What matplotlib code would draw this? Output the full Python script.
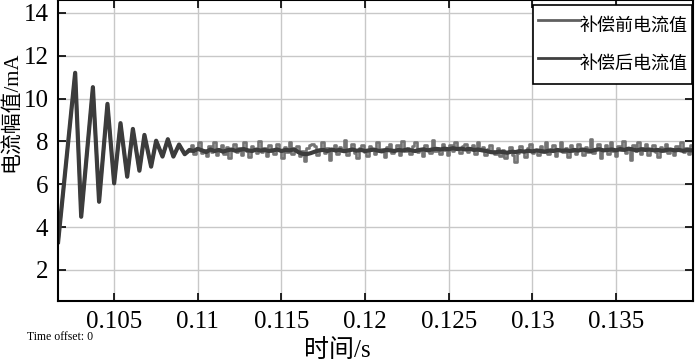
import numpy as np
import matplotlib
matplotlib.use("Agg")
import matplotlib.pyplot as plt

plt.rcParams['font.family'] = ['Liberation Serif', 'Noto Sans CJK SC']

# start-up transient (peaks / troughs), shared by both curves
t_start = [0.10165, 0.10267, 0.10303, 0.10373, 0.10410, 0.10460, 0.10500,
           0.10538, 0.10578, 0.10612, 0.10651, 0.10681, 0.10721, 0.10751,
           0.10789, 0.10821, 0.10854, 0.10888, 0.10922]
i_start = [3.3, 11.2, 4.48, 10.53, 5.18, 9.75, 6.04,
           8.85, 6.35, 8.58, 6.63, 8.30, 6.82, 8.03,
           7.29, 8.10, 7.29, 7.85, 7.40]

# steady state, before compensation (sampled every 0.15 ms from 0.1095 s)
i_before = [
    7.55, 7.85, 7.40, 7.70, 7.95, 7.45, 7.60, 7.30, 7.80, 7.50, 7.95, 7.35, 7.65, 7.85, 7.40, 7.75, 7.20, 7.60, 7.90, 7.50,
    7.70, 7.35, 7.95, 7.55, 7.25, 7.80, 7.60, 7.45, 8.00, 7.50, 7.70, 7.30, 7.85, 7.55, 7.40, 7.90, 7.60, 7.20, 7.75, 7.50,
    7.95, 7.40, 7.65, 7.80, 7.30, 7.55, 7.10, 7.70, 7.85, 7.90, 7.80, 7.35, 7.60, 7.95, 7.45, 7.70, 7.15, 7.60, 7.85, 7.40,
    7.75, 7.55, 8.05, 7.35, 7.60, 7.90, 7.45, 7.20, 7.70, 7.85, 7.50, 7.30, 7.80, 7.60, 7.40, 7.95, 7.55, 7.65, 7.25, 7.75,
    7.90, 7.45, 7.60, 7.85, 7.35, 8.00, 7.55, 7.70, 7.40, 7.80, 7.95, 7.50, 7.65, 7.30, 7.85, 7.60, 7.45, 8.05, 7.55, 7.70,
    7.40, 7.90, 7.60, 7.35, 7.85, 7.55, 7.95, 7.65, 7.45, 7.80, 7.90, 7.50, 7.70, 7.85, 7.40, 7.95, 7.60, 7.75, 7.35, 7.65,
    7.85, 7.55, 7.40, 7.70, 7.30, 7.60, 7.20, 7.50, 7.75, 7.35, 7.05, 7.45, 7.80, 7.55, 7.25, 7.70, 7.90, 7.45, 7.60, 7.35,
    7.80, 7.50, 7.95, 7.40, 7.65, 7.85, 7.30, 7.60, 7.95, 7.50, 7.70, 7.25, 7.85, 7.55, 7.40, 7.90, 7.60, 7.35, 7.75, 7.50,
    8.10, 7.45, 7.65, 7.90, 7.20, 7.60, 7.85, 7.40, 7.95, 7.55, 7.30, 7.80, 7.60, 8.00, 7.45, 7.70, 7.15, 7.85, 7.55, 7.95,
    7.40, 7.70, 7.90, 7.35, 7.60, 7.85, 7.50, 7.25, 7.75, 7.55, 7.90, 7.45, 7.65, 7.35, 7.80, 7.60,
    7.95, 7.50, 7.70, 7.40, 7.85, 7.55, 7.30, 7.75, 7.60, 7.50,
]

# steady state, after compensation (sampled every 0.25 ms from 0.1095 s)
i_after = [
    7.60, 7.55, 7.65, 7.58, 7.50, 7.62, 7.55, 7.60, 7.52, 7.58,
    7.62, 7.56, 7.60, 7.64, 7.58, 7.55, 7.62, 7.57, 7.60, 7.55,
    7.58, 7.62, 7.55, 7.60, 7.58, 7.63, 7.50, 7.42, 7.40, 7.45,
    7.52, 7.58, 7.60, 7.55, 7.62, 7.57, 7.60, 7.54, 7.58, 7.62,
    7.56, 7.60, 7.55, 7.58, 7.62, 7.57, 7.53, 7.60, 7.58, 7.55,
    7.60, 7.57, 7.62, 7.58, 7.55, 7.60, 7.63, 7.58, 7.62, 7.65,
    7.62, 7.66, 7.63, 7.68, 7.64, 7.66, 7.62, 7.65, 7.60, 7.62,
    7.58, 7.55, 7.50, 7.48, 7.52, 7.50, 7.47, 7.52, 7.50, 7.55,
    7.52, 7.56, 7.53, 7.58, 7.55, 7.52, 7.57, 7.55, 7.60, 7.56,
    7.58, 7.55, 7.60, 7.57, 7.62, 7.58, 7.55, 7.60, 7.63, 7.58,
    7.60, 7.62, 7.58, 7.64, 7.60, 7.66, 7.62, 7.58, 7.63, 7.60,
    7.62, 7.58, 7.60, 7.56, 7.60, 7.62, 7.58, 7.60, 7.56, 7.60,
    7.58, 7.62, 7.60, 7.58,
]

x_ticks = [0.105, 0.11, 0.115, 0.12, 0.125, 0.13, 0.135]
x_tick_labels = ["0.105", "0.11", "0.115", "0.12", "0.125", "0.13", "0.135"]
y_ticks = [2, 4, 6, 8, 10, 12, 14]
labels = ["补偿前电流值", "补偿后电流值"]

t_b = np.concatenate([t_start, 0.1095 + 0.00015 * np.arange(len(i_before))])
y_b = np.concatenate([i_start, i_before])
t_a = np.concatenate([t_start, 0.1095 + 0.00025 * np.arange(len(i_after))])
y_a = np.concatenate([i_start, i_after])

fig = plt.figure(figsize=(7, 3.63), dpi=100)
ax = fig.add_axes([0.083, 0.171, 0.907, 0.829])

# before: transient as a line, steady part as sample-and-hold steps
n0 = len(t_start)
ax.plot(t_b[:n0 + 1], y_b[:n0 + 1], color="#747474", lw=2.2)
ax.plot(t_b[n0:], y_b[n0:], color="#747474", lw=1.9, drawstyle="steps-mid",
        label=labels[0])
ax.plot(t_a, y_a, color="#3c3c3c", lw=3.0, label=labels[1])

ax.set_xlim(0.10165, 0.1396)
ax.set_ylim(0.55, 14.6)
ax.set_xticks(x_ticks)
ax.set_xticklabels(x_tick_labels)
ax.set_yticks(y_ticks)
ax.grid(True, color="#c8c8c8", lw=1.0)
ax.tick_params(direction="in", length=6, width=1.2, labelsize=18,
               top=True, right=True, pad=7)
for s in ax.spines.values():
    s.set_linewidth(1.5)

ax.set_xlabel("时间/s", fontsize=18)
ax.xaxis.set_label_coords(0.44, -0.125)
ax.set_ylabel("电流幅值/mA", fontsize=15)
ax.yaxis.set_label_coords(-0.057, 0.63)

leg = ax.legend(loc="upper right", bbox_to_anchor=(0.9985, 0.983),
                fontsize=13, handlelength=2.3, handleheight=2.35,
                handletextpad=0.0, labelspacing=0.33, borderpad=0.25,
                fancybox=False, framealpha=1, edgecolor="black",
                borderaxespad=0.0)
leg.get_frame().set_linewidth(1.2)
leg.get_lines()[0].set_color("#606060")
leg.get_lines()[1].set_color("#404040")
for line in leg.get_lines():
    line.set_linewidth(2)

fig.text(0.039, 0.063, "Time offset: 0", fontsize=8.5)

fig.savefig("out.png", dpi=100)
